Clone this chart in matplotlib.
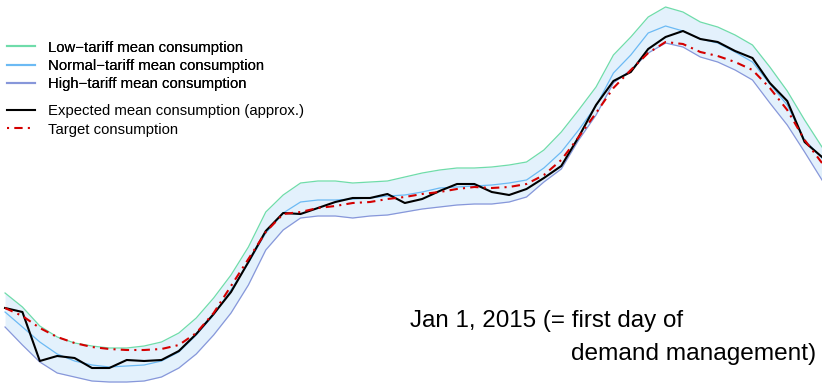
import matplotlib.pyplot as plt
from matplotlib.lines import Line2D

plt.rcParams['font.family'] = ['Liberation Sans', 'DejaVu Sans']

# half-hour slots of one day
slots = list(range(48))

low_tariff = [90, 76, 57, 46, 40, 37, 35, 35, 37, 41, 50, 65, 85, 108, 136, 171,
              188, 200, 202, 202, 200, 201, 202, 206, 210, 213, 215, 215, 216, 218, 221, 233,
              251, 273, 296, 328, 346, 366, 376, 371, 361, 356, 348, 338, 316, 292, 263, 236]
normal_tariff = [71, 56, 41, 29, 22, 18, 16, 17, 18, 22, 31, 48, 68, 93, 120, 150,
                 170, 181, 183, 183, 184, 185, 187, 188, 191, 195, 196, 197, 198, 200, 203, 215,
                 231, 253, 277, 310, 328, 350, 357, 352, 344, 340, 331, 321, 299, 278, 243, 225]
high_tariff = [56, 38, 21, 10, 6, 2, 1, 1, 2, 6, 15, 29, 48, 70, 98, 133,
               153, 165, 167, 167, 165, 167, 168, 171, 174, 176, 178, 179, 179, 181, 186, 201,
               214, 243, 268, 300, 313, 330, 340, 336, 326, 321, 313, 303, 280, 258, 231, 203]
expected = [75, 71, 22, 27, 25, 15, 15, 23, 22, 23, 32, 49, 69, 91, 121, 152,
            170, 169, 175, 181, 185, 185, 189, 180, 184, 192, 199, 199, 191, 188, 194, 205,
            217, 246, 278, 302, 311, 334, 346, 352, 344, 341, 332, 325, 300, 282, 241, 226]
target = [75, 67, 55, 46, 40, 36, 34, 33, 33, 34, 38, 50, 70, 97, 124, 151,
          169, 171, 175, 177, 180, 181, 184, 186, 189, 191, 194, 196, 195, 196, 199, 208,
          223, 246, 270, 295, 313, 330, 341, 339, 331, 327, 321, 313, 295, 273, 243, 220]

c_low = '#6fdcaa'
c_normal = '#6cbaf4'
c_high = '#8797da'

fig = plt.figure(figsize=(8.22, 3.83), dpi=100)
ax = fig.add_axes([0, 0, 1, 1])
ax.axis('off')

ax.fill_between(slots, low_tariff, high_tariff, color='#e3f1fc', lw=0)
ax.plot(slots, low_tariff, color=c_low, lw=0.9)
ax.plot(slots, normal_tariff, color=c_normal, lw=0.9)
ax.plot(slots, high_tariff, color=c_high, lw=0.9)
ax.plot(slots, expected, color='black', lw=1.5)
ax.plot(slots, target, color='#d40000', lw=1.5, dashes=(4, 2.5, 1, 2.5))

ax.set_xlim(-0.29, 47)
ax.set_ylim(0, 383)

h1 = [Line2D([], [], color=c_low, lw=1.5),
      Line2D([], [], color=c_normal, lw=1.5),
      Line2D([], [], color=c_high, lw=1.5)]
l1 = ['Low\u2212tariff mean consumption',
      'Normal\u2212tariff mean consumption',
      'High\u2212tariff mean consumption']
h2 = [Line2D([], [], color='black', lw=1.5),
      Line2D([], [], color='#d40000', lw=1.5, dashes=(1, 2.5, 4, 2.5, 1, 2.5))]
l2 = ['Expected mean consumption (approx.)', 'Target consumption']

leg1 = fig.legend(h1, l1, loc='upper left', bbox_to_anchor=(0.0085, 0.894),
                  frameon=False, fontsize=10.7, borderpad=0, borderaxespad=0,
                  handlelength=1.9, handletextpad=0.87, labelspacing=0.28)
fig.legend(h2, l2, loc='upper left', bbox_to_anchor=(0.0085, 0.729),
           frameon=False, fontsize=10.7, borderpad=0, borderaxespad=0,
           handlelength=1.9, handletextpad=0.87, labelspacing=0.33)
fig.add_artist(leg1)

fig.text(410 / 822, 1 - 327 / 383, 'Jan 1, 2015 (= first day of', fontsize=17.4,
         ha='left', va='baseline')
fig.text(571 / 822, 1 - 360 / 383, 'demand management)', fontsize=17.6,
         ha='left', va='baseline')

fig.savefig('out.png', dpi=100)
